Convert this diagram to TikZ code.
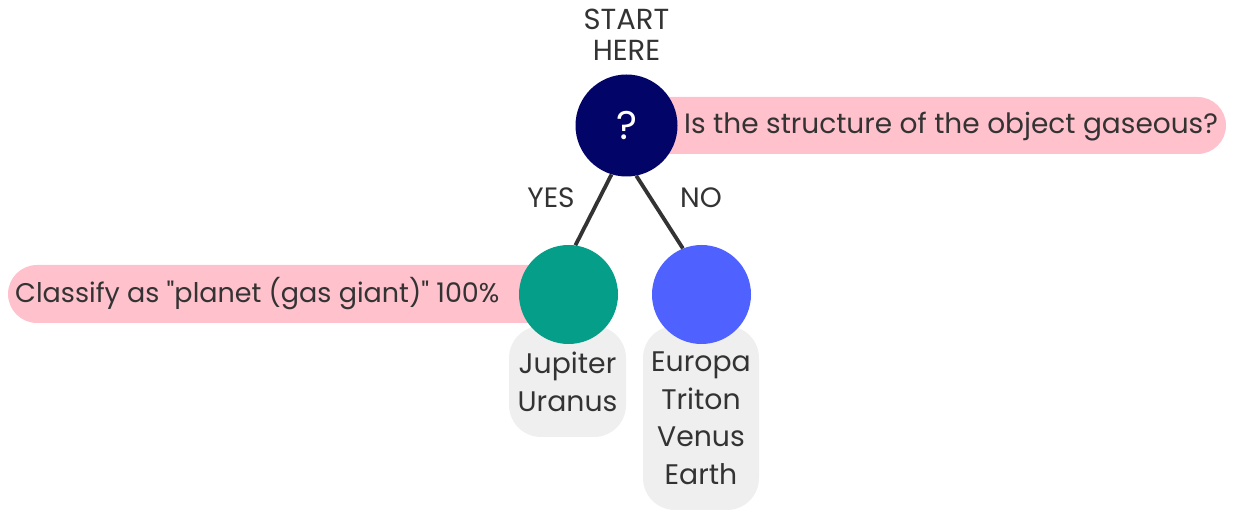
\documentclass[tikz,border=0pt]{standalone}
\usepackage{fontspec}
\setmainfont{Poppins}[Ligatures=TeXOff]
\usetikzlibrary{backgrounds}
\definecolor{navy}{HTML}{020468}
\definecolor{teal}{HTML}{059E88}
\definecolor{blueish}{HTML}{4F62FF}
\definecolor{pinkbar}{HTML}{FFC1CC}
\definecolor{graybox}{HTML}{EFEFEF}
\definecolor{ink}{HTML}{333333}
\begin{document}
\begin{tikzpicture}[x=1pt,y=-1pt,
  lbl/.style={font=\fontsize{28}{30}\selectfont, text=ink, inner sep=0pt},
  stack/.style={font=\fontsize{28.3}{37.5}\selectfont, text=ink, inner sep=0pt, align=center},
  ball/.style={circle, inner sep=0pt, minimum size=#1},
  link/.style={draw=ink, line width=3.8pt}]
\useasboundingbox (0,0) rectangle (1235,510);
% pink bars
\fill[pinkbar, rounded corners=28.5pt] (600,97) rectangle (1226,154);
\fill[pinkbar, rounded corners=29pt] (8,265) rectangle (560,323);
% gray boxes
\fill[graybox, rounded corners=32pt] (509,326) rectangle (626,437);
\fill[graybox, rounded corners=32pt] (643,326) rectangle (759,510);
% circles
\node[ball=102pt, fill=navy, text=white, font=\fontsize{40}{44}\selectfont] (q) at (626.5,125.5) {?};
\node[ball=99pt, fill=teal] (yes) at (568.5,294.5) {};
\node[ball=99pt, fill=blueish] (no) at (701.5,294.5) {};
% connectors
\draw[link] (q.253.8) -- (yes.82.5);
\draw[link] (q.281.9) -- (no.112.7);
% texts
\node[lbl, align=center, font=\fontsize{29}{31}\selectfont] (start) at (626.5,35) {START\\HERE};
\node[lbl, anchor=base west] (qtxt) at (684,134) {Is the structure of the object gaseous?};
\node[lbl, anchor=base west, font=\fontsize{27}{30}\selectfont] (ytxt) at (15,303) {Classify as "planet (gas giant)" 100\%};
\node[lbl] (yeslbl) at (551,197.5) {YES};
\node[lbl] (nolbl) at (701,197.5) {NO};
\node[stack, anchor=north] (ylist) at (567.5,352) {Jupiter\\Uranus};
\node[stack, anchor=north] (nlist) at (701,352) {Europa\\Triton\\Venus\\Earth};
\end{tikzpicture}
\end{document}
